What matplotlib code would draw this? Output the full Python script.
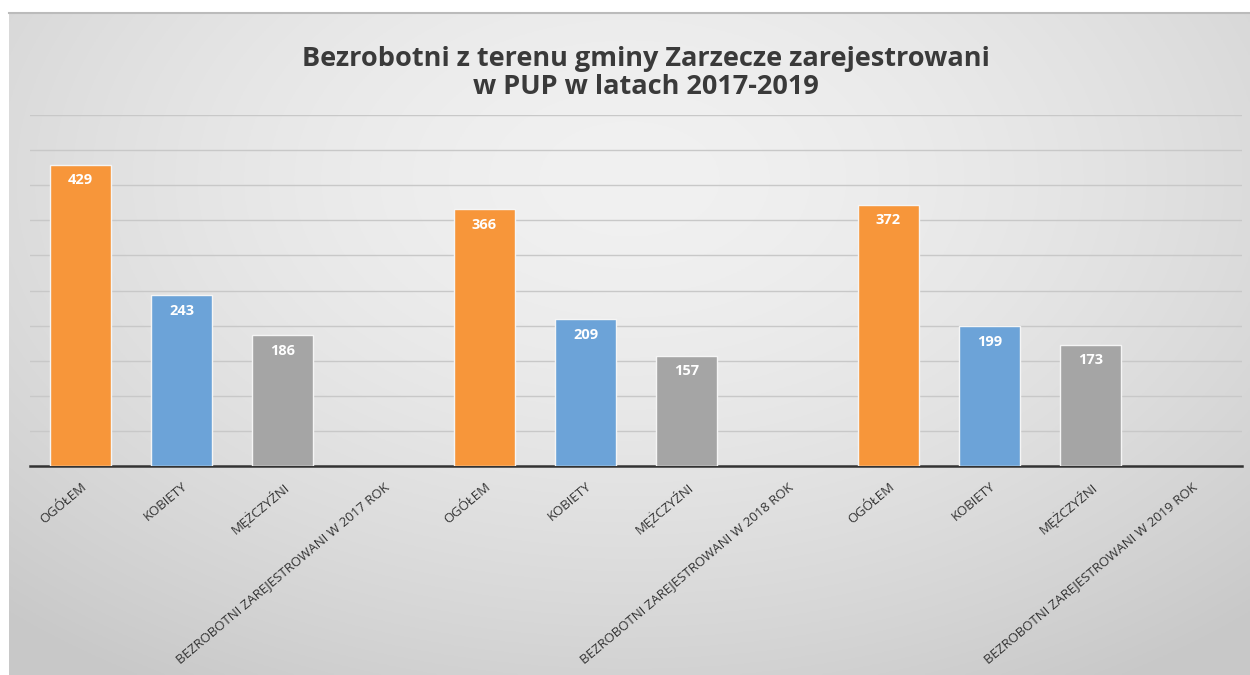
import numpy as np
import matplotlib
matplotlib.use("Agg")
import matplotlib.pyplot as plt

# data
categories = ["OGÓŁEM", "KOBIETY", "MĘŻCZYŹNI", "BEZROBOTNI ZAREJESTROWANI W 2017 ROK",
              "OGÓŁEM", "KOBIETY", "MĘŻCZYŹNI", "BEZROBOTNI ZAREJESTROWANI W 2018 ROK",
              "OGÓŁEM", "KOBIETY", "MĘŻCZYŹNI", "BEZROBOTNI ZAREJESTROWANI W 2019 ROK"]
values = [429, 243, 186, None, 366, 209, 157, None, 372, 199, 173, None]
bar_colors = ["#F7963A", "#6CA3D8", "#A5A5A5", None] * 3
title = "Bezrobotni z terenu gminy Zarzecze zarejestrowani\nw PUP w latach 2017-2019"

plt.rcParams['font.family'] = ['Open Sans', 'DejaVu Sans']

fig = plt.figure(figsize=(12.5, 6.75), dpi=100)
fig.patch.set_facecolor("white")

# gradient background panel
bg = fig.add_axes([9/1250, 0, 1 - 9/1250, 1 - 13/675])
yy, xx = np.mgrid[0:1:300j, 0:1:600j]
r = np.sqrt(((xx - 0.5) / 0.75) ** 2 + ((yy - 0.25) / 0.9) ** 2)
shade = 0.945 - 0.16 * np.clip(r, 0, 1) ** 1.6
bg.imshow(np.dstack([shade] * 3), aspect="auto", extent=[0, 1, 0, 1], origin="upper")
bg.set_xlim(0, 1)
bg.set_ylim(0, 1)
bg.axis("off")
bg.plot([0, 1], [1, 1], color="#bbbbbb", lw=1.5, clip_on=False)

ax = fig.add_axes([30/1250, 1 - 466/675, 1212/1250, 351/675])
ax.patch.set_alpha(0)
x = np.arange(len(categories))
for i, v in enumerate(values):
    if v is None:
        continue
    ax.bar(x[i], v, width=0.6, color=bar_colors[i], edgecolor="#f5f5f5", linewidth=1, zorder=3)
    ax.text(x[i], v - 22, str(v), ha="center", va="center", color="white",
            fontsize=10.5, fontweight="bold", zorder=4)

ax.set_xlim(-0.5, len(categories) - 0.5)
ax.set_ylim(0, 500)
ax.set_yticks(np.arange(50, 501, 50))
ax.yaxis.grid(True, color="#c8c8c8", lw=1)
ax.set_axisbelow(True)
ax.tick_params(axis="y", left=False, labelleft=False)
ax.tick_params(axis="x", length=0, pad=10)
ax.set_xticks(x)
ax.set_xticklabels(categories, rotation=40, ha="right", rotation_mode="anchor",
                   fontsize=9.5, color="#333333")
for s in ["top", "right", "left"]:
    ax.spines[s].set_visible(False)
ax.spines["bottom"].set_color("#333333")
ax.spines["bottom"].set_linewidth(1.8)

fig.text(646/1250, 1 - 73/675, title, ha="center", va="center", fontsize=19.5,
         fontweight="bold", color="#3a3a3a", linespacing=1.15)

fig.savefig("out.png", dpi=100)
